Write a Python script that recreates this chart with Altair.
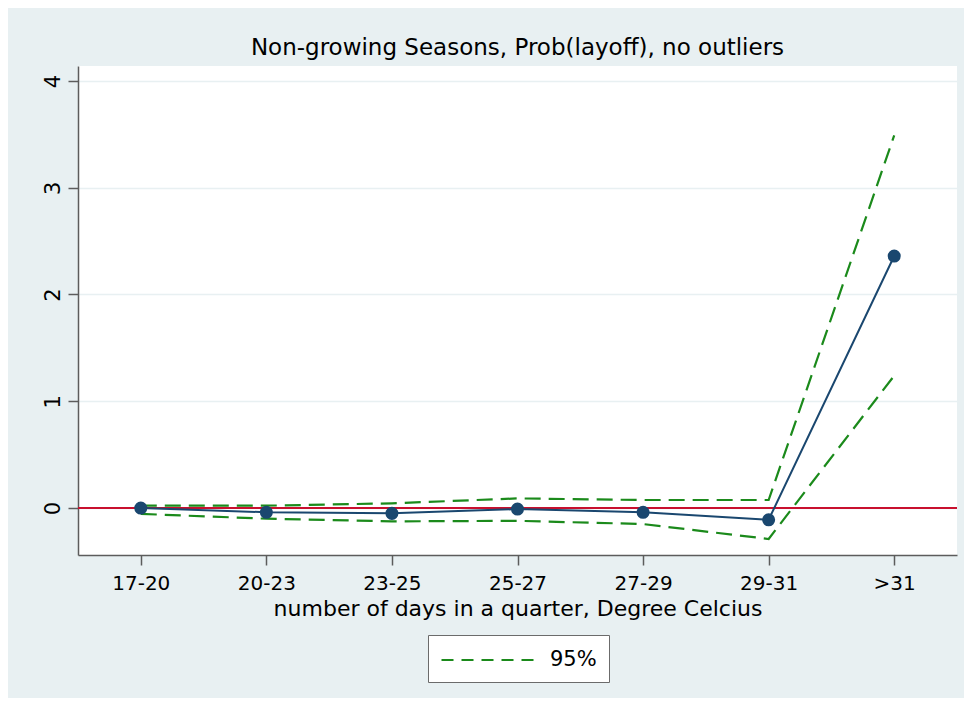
import altair as alt
import pandas as pd

# ---- data ----
categories = ["17-20", "20-23", "23-25", "25-27", "27-29", "29-31", ">31"]
estimate = [0.0, -0.04, -0.05, -0.01, -0.04, -0.11, 2.36]
upper = [0.022, 0.022, 0.044, 0.09, 0.075, 0.075, 3.49]
lower = [-0.055, -0.10, -0.125, -0.12, -0.15, -0.29, 1.24]
ci_label = "95%"
y_ticks = [0, 1, 2, 3, 4]

title_text = "Non-growing Seasons, Prob(layoff), no outliers"
x_title = "number of days in a quarter, Degree Celcius"

df_est = pd.DataFrame({"cat": categories, "est": estimate})
df_ci = pd.DataFrame({
    "cat": categories * 2,
    "val": upper + lower,
    "bound": ["upper"] * len(upper) + ["lower"] * len(lower),
    "series": [ci_label] * (len(upper) + len(lower)),
})
df_zero = pd.DataFrame({"z": [0]})

FONT = "DejaVu Sans"
BG = "#E8F0F2"
NAVY = "#1A476F"
GREEN = "#1B8A1B"
RED = "#C8102E"
AXIS = "#5C5C5C"

x_axis = alt.Axis(
    title=x_title, labelAngle=0, grid=False,
    domainColor=AXIS, domainWidth=1.5, tickColor=AXIS, tickWidth=1.5, tickSize=10,
    labelFont=FONT, labelFontSize=20, labelColor="black",
    labelBaseline="alphabetic", labelPadding=24,
    titleFont=FONT, titleFontSize=22, titleFontWeight="normal", titleColor="black",
    titleBaseline="alphabetic", titlePadding=22,
)
y_axis = alt.Axis(
    title=None, values=y_ticks, grid=True, gridColor=BG, gridWidth=1.5,
    domainColor=AXIS, domainWidth=1.5, tickColor=AXIS, tickWidth=1.5, tickSize=10,
    labelFont=FONT, labelFontSize=21, labelColor="black",
    labelAngle=270, labelAlign="center", labelBaseline="alphabetic", labelPadding=9,
)
x_scale = alt.Scale(type="point", padding=0.5)
y_scale = alt.Scale(domain=[-0.44, 4.14], nice=False, zero=False)

zero_line = alt.Chart(df_zero).mark_rule(color=RED, strokeWidth=2).encode(
    y=alt.Y("z:Q", scale=y_scale, axis=y_axis)
)

ci = alt.Chart(df_ci).mark_line(strokeWidth=2.2, strokeDash=[16, 8]).encode(
    x=alt.X("cat:N", sort=categories, scale=x_scale, axis=x_axis),
    y=alt.Y("val:Q", scale=y_scale, axis=y_axis),
    detail="bound:N",
    color=alt.Color(
        "series:N",
        scale=alt.Scale(domain=[ci_label], range=[GREEN]),
        legend=alt.Legend(
            title=None, orient="none", legendX=350, legendY=569,
            fillColor="white", strokeColor="#6B6B6B", padding=12, cornerRadius=0,
            symbolType="M-1,0H7", symbolSize=529, symbolStrokeWidth=2.2,
            symbolDash=[12, 8],
            labelFont=FONT, labelFontSize=21, labelColor="black", labelOffset=84,
        ),
    ),
)

est_line = alt.Chart(df_est).mark_line(color=NAVY, strokeWidth=2).encode(
    x=alt.X("cat:N", sort=categories, scale=x_scale, axis=x_axis),
    y=alt.Y("est:Q", scale=y_scale, axis=y_axis),
)
est_pts = alt.Chart(df_est).mark_point(filled=True, color=NAVY, size=170, opacity=1).encode(
    x=alt.X("cat:N", sort=categories, scale=x_scale, axis=x_axis),
    y=alt.Y("est:Q", scale=y_scale, axis=y_axis),
)

chart = alt.layer(zero_line, ci, est_line, est_pts).properties(
    width=879, height=489,
    title=alt.TitleParams(
        title_text, font=FONT, fontSize=23, fontWeight="normal", color="black",
        anchor="middle", frame="group", offset=12, baseline="alphabetic", dy=24,
    ),
    padding={"left": 70, "top": 58, "right": 7, "bottom": 143},
    autosize=alt.AutoSizeParams(type="none"),
).configure(background=BG).configure_view(fill="white", strokeWidth=0)

chart.save("out.html", embed_options={"renderer": "svg", "actions": False})
